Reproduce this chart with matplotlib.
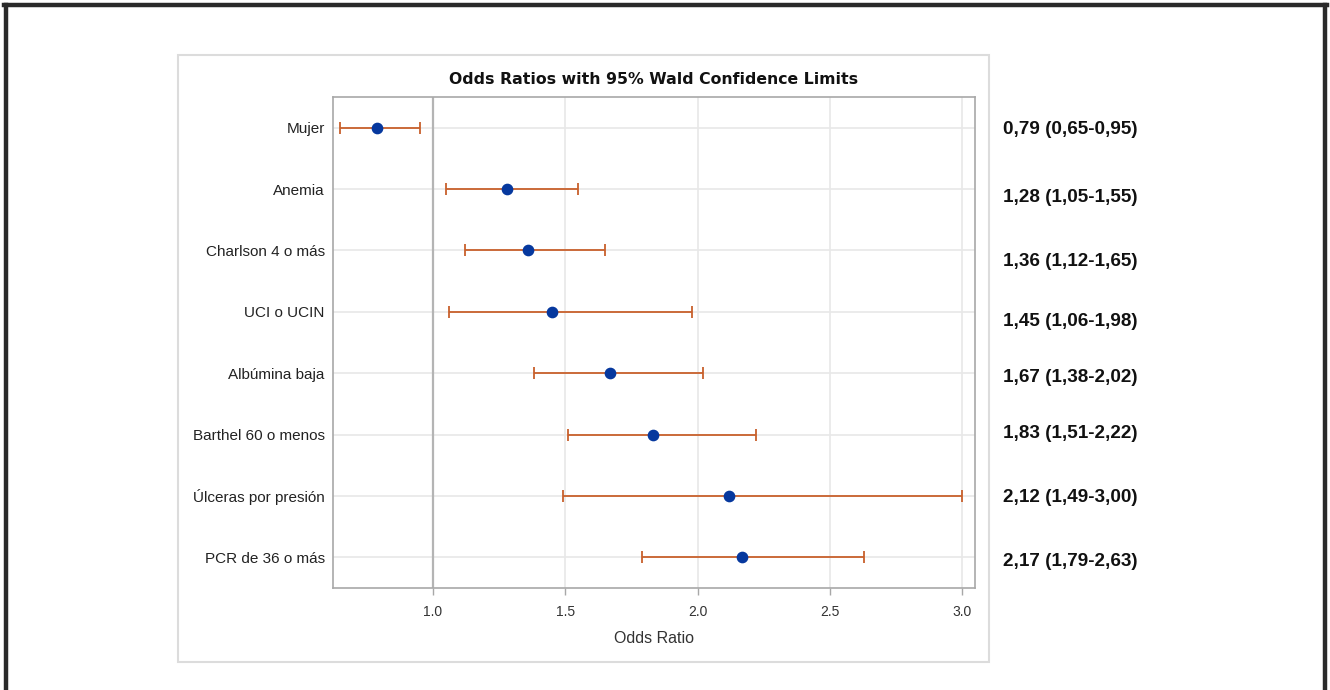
import matplotlib
matplotlib.use("Agg")
import matplotlib.pyplot as plt
from matplotlib.patches import Rectangle
from matplotlib.lines import Line2D

# ── data ──────────────────────────────────────────────────────────────
variables = ["Mujer", "Anemia", "Charlson 4 o más", "UCI o UCIN",
             "Albúmina baja", "Barthel 60 o menos", "Úlceras por presión",
             "PCR de 36 o más"]
odds_ratio = [0.79, 1.28, 1.36, 1.45, 1.67, 1.83, 2.12, 2.17]
ci_low     = [0.65, 1.05, 1.12, 1.06, 1.38, 1.51, 1.49, 1.79]
ci_high    = [0.95, 1.55, 1.65, 1.98, 2.02, 2.22, 3.00, 2.63]
x_ticks    = [1.0, 1.5, 2.0, 2.5, 3.0]

# pixel rows of the right-hand annotation (as laid out in the original)
label_rows_px = [129, 198, 261, 321, 378, 434, 497, 561]

W, H = 1330, 690
fig = plt.figure(figsize=(W / 100, H / 100), dpi=100)
fig.patch.set_facecolor("white")

def fx(px):
    return px / W

def fy(py):
    return 1 - py / H

# outer black frame (left, top, right)
for xs, ys in [((6, 6), (5, H)), ((4, W - 3), (5, 5)), ((W - 5, W - 5), (5, H))]:
    fig.add_artist(Line2D([fx(x) for x in xs], [fy(y) for y in ys],
                          color="#2a2a2a", lw=3.2, transform=fig.transFigure))

# light grey frame around the graph
fig.add_artist(Rectangle((fx(178), fy(662)), fx(989) - fx(178), fy(55) - fy(662),
                         fill=False, edgecolor="#dcdcdc", lw=1.5,
                         transform=fig.transFigure))

ax = fig.add_axes([fx(333), fy(588), fx(975) - fx(333), fy(97) - fy(588)])

ypos = list(range(len(variables)))
xerr = [[o - l for o, l in zip(odds_ratio, ci_low)],
        [h - o for o, h in zip(odds_ratio, ci_high)]]

ax.axvline(1.0, color="#b4b4b4", lw=1.6, zorder=1)
ax.errorbar(odds_ratio, ypos, xerr=xerr, fmt="none", ecolor="#c8602c",
            elinewidth=1.3, capsize=4.6, capthick=1.3, zorder=3)
ax.plot(odds_ratio, ypos, "o", color="#06389e", markersize=7.4, zorder=4)

ax.set_xlim(0.622, 3.049)
ax.set_ylim(len(variables) - 0.5, -0.5)
ax.set_xticks(x_ticks)
ax.set_xticklabels([f"{t:.1f}" for t in x_ticks], fontsize=10, color="#333333",
                   family="Liberation Sans")
ax.set_yticks(ypos)
ax.set_yticklabels(variables, fontsize=11, color="#222222", family="Liberation Sans")
ax.tick_params(axis="y", length=0, pad=6)
ax.tick_params(axis="x", length=5, color="#a8a8a8", width=1, pad=7)
ax.grid(True, color="#e8e8e8", lw=1.2, zorder=0)
ax.set_axisbelow(True)
for s in ax.spines.values():
    s.set_color("#a8a8a8")
    s.set_linewidth(1.2)

ax.set_xlabel("Odds Ratio", fontsize=11.5, color="#333333",
              family="Liberation Sans", labelpad=9)

fig.text(fx(654), fy(80), "Odds Ratios with 95% Wald Confidence Limits",
         ha="center", va="center", fontsize=11.3, fontweight="bold",
         family="DejaVu Sans", color="#111111")

# right-hand annotations
for o, l, h, py in zip(odds_ratio, ci_low, ci_high, label_rows_px):
    txt = f"{o:.2f} ({l:.2f}-{h:.2f})".replace(".", ",")
    fig.text(fx(1003), fy(py), txt, ha="left", va="center", fontsize=13.6,
             fontweight="bold", family="Liberation Sans", color="#111111")

fig.savefig("out.png", dpi=100)
